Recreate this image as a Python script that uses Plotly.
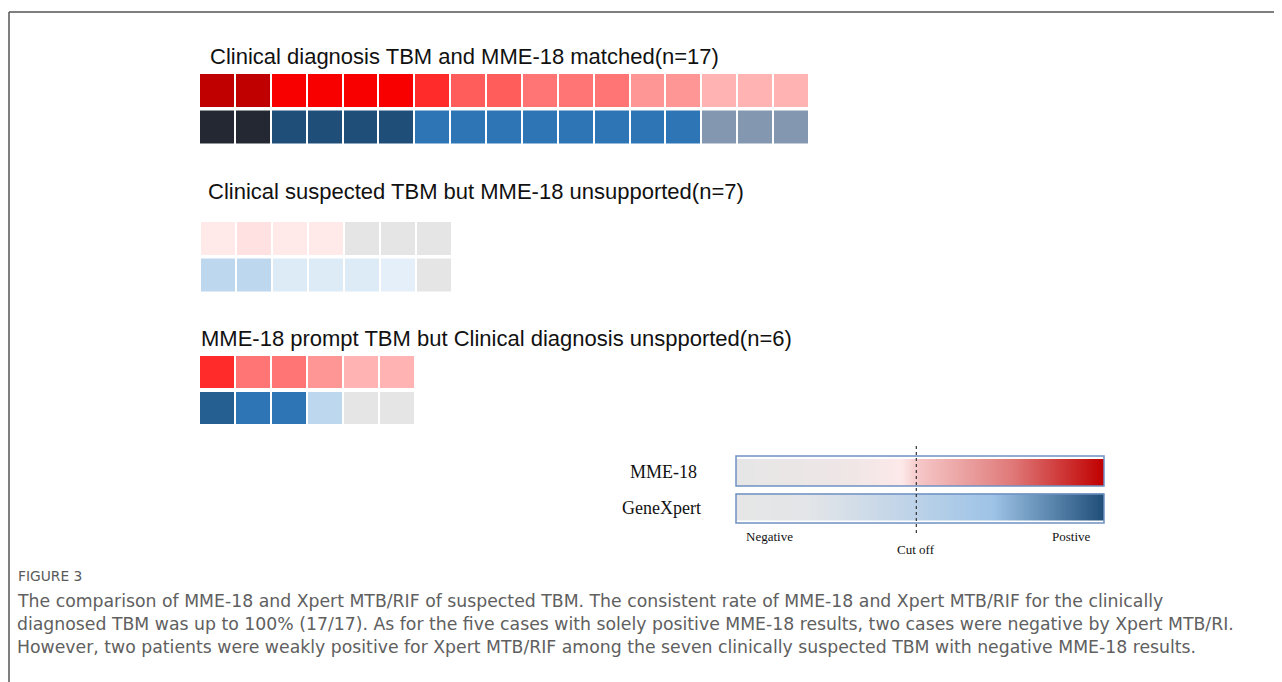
import numpy as np
import plotly.graph_objects as go

W, H = 1282, 682
OFF = 8  # page body margin offset

# ---------------- data ----------------
group_titles = [
    "Clinical diagnosis TBM and MME-18 matched(n=17)",
    "Clinical suspected TBM but MME-18 unsupported(n=7)",
    "MME-18 prompt TBM but Clinical diagnosis unspported(n=6)",
]
row_labels = ["MME-18", "GeneXpert"]

# ordinal signal levels read from the cells (0 = negative / grey)
mme_g1 = [9, 9, 8, 8, 8, 8, 7, 6, 6, 5, 5, 5, 4, 4, 3, 3, 3]
xpert_g1 = [8, 8, 7, 7, 7, 7, 5, 5, 5, 5, 5, 5, 5, 5, 4, 4, 4]
mme_g2 = [1, 2, 1, 1, 0, 0, 0]
xpert_g2 = [3, 3, 2, 2, 2, 1, 0]
mme_g3 = [7, 5, 5, 4, 3, 3]
xpert_g3 = [6, 5, 5, 3, 0, 0]

legend_labels = ["Negative", "Cut off", "Postive"]
cutoff = 0.49

caption_head = "FIGURE 3"
caption_lines = [
    "The comparison of MME-18 and Xpert MTB/RIF of suspected TBM. The consistent rate of MME-18 and Xpert MTB/RIF for the clinically",
    "diagnosed TBM was up to 100% (17/17). As for the five cases with solely positive MME-18 results, two cases were negative by Xpert MTB/RI.",
    "However, two patients were weakly positive for Xpert MTB/RIF among the seven clinically suspected TBM with negative MME-18 results.",
]

# ---------------- styles ----------------
mme_palette = ["#e5e5e5", "#ffe9e9", "#ffe1e1", "#ffb3b3", "#ff9696",
               "#ff7575", "#ff5c5c", "#ff2a2a", "#f80000", "#c00000"]
xpert_palette = ["#e5e5e5", "#e5effa", "#ddebf7", "#bdd7ee", "#8497b0",
                 "#2e75b6", "#255e91", "#1f4e79", "#232833"]


def discrete_scale(pal):
    n = len(pal)
    cs = []
    for i, c in enumerate(pal):
        lo = round(i / n, 6)
        hi = round((i + 1) / n, 6)
        if i > 0:
            lo = round(lo + 1e-6, 6)
        cs.append([lo, c])
        cs.append([min(hi, 1.0), c])
    cs[0][0] = 0.0
    cs[-1][0] = 1.0
    return cs


mme_grad = [[0.0, "#e6e6e6"], [0.3, "#efe6e6"], [0.45, "#fde9e9"], [0.5, "#f5c6c6"],
            [0.75, "#e07a7a"], [1.0, "#c00000"]]
xpert_grad = [[0.0, "#e6e6e6"], [0.2, "#e3e5e8"], [0.49, "#bcd2e8"], [0.7, "#9dc3e6"],
              [1.0, "#1f4e79"]]


def px(x):
    return (x - OFF) / W


def py(y):
    return 1 - (y - OFF) / H


fig = go.Figure()

groups = [
    (mme_g1, xpert_g1, (199, 809), (72, 145)),
    (mme_g2, xpert_g2, (200, 452), (220, 293)),
    (mme_g3, xpert_g3, (199, 415), (354, 426)),
]

layout_axes = {}
for gi, (mme, xp, (x0, x1), (y0, y1)) in enumerate(groups):
    k = gi + 1
    xa = "x" if k == 1 else f"x{k}"
    ya = "y" if k == 1 else f"y{k}"
    n = len(mme)
    for ri, (vals, pal) in enumerate(((mme, mme_palette), (xp, xpert_palette))):
        fig.add_trace(go.Heatmap(
            z=[list(vals)], x=list(range(n)), y=[ri],
            colorscale=discrete_scale(pal), zmin=-0.5, zmax=len(pal) - 0.5,
            showscale=False, xgap=2, ygap=4, hoverinfo="skip",
            name=row_labels[ri], xaxis=xa, yaxis=ya,
        ))
    layout_axes[f"xaxis{'' if k == 1 else k}"] = dict(
        domain=[px(x0), px(x1)], range=[-0.5, n - 0.5], visible=False, anchor=ya)
    layout_axes[f"yaxis{'' if k == 1 else k}"] = dict(
        domain=[py(y1), py(y0)], visible=False, anchor=xa, range=[1.5, -0.5])

# legend gradient bars
gx = [float(v) for v in np.linspace(0, 1, 300)]
for ri, cs in enumerate((mme_grad, xpert_grad)):
    fig.add_trace(go.Heatmap(
        z=[gx], x=gx, y=[ri], colorscale=cs, zmin=0, zmax=1, showscale=False,
        ygap=8, hoverinfo="skip", name=row_labels[ri], xaxis="x4", yaxis="y4"))
layout_axes["xaxis4"] = dict(domain=[px(736), px(1104)], range=[0, 1], visible=False, anchor="y4")
layout_axes["yaxis4"] = dict(domain=[py(524), py(455)], visible=False, anchor="x4", range=[1.5, -0.5])

shapes = []
lx0, lx1 = px(736), px(1104)
for (t, b) in ((456, 486), (494, 523)):
    shapes.append(dict(type="rect", xref="paper", yref="paper",
                       x0=lx0, x1=lx1, y0=py(b), y1=py(t),
                       line=dict(color="#6f91c2", width=1.5)))
shapes.append(dict(type="line", xref="x4", yref="paper", x0=cutoff, x1=cutoff,
                   y0=py(533), y1=py(446), line=dict(color="#333333", width=1.2, dash="dot")))
shapes.append(dict(type="line", xref="paper", yref="paper", x0=px(9), x1=px(9),
                   y0=0, y1=py(12), line=dict(color="#555555", width=1.5)))
shapes.append(dict(type="line", xref="paper", yref="paper", x0=px(9), x1=1,
                   y0=py(12), y1=py(12), line=dict(color="#555555", width=1.5)))

ann = []
title_pos = [(208, 56), (206, 191), (199, 338)]
for t, (x, y) in zip(group_titles, title_pos):
    ann.append(dict(text=t, x=px(x), y=py(y), xref="paper", yref="paper",
                    xanchor="left", yanchor="middle", showarrow=False,
                    font=dict(family="Liberation Sans, Arial", size=22, color="#111111")))

serif = "Liberation Serif, Times New Roman"
ann.append(dict(text=row_labels[0], x=px(699), y=py(472), xref="paper", yref="paper",
                xanchor="right", yanchor="middle", showarrow=False,
                font=dict(family=serif, size=18, color="#111111")))
ann.append(dict(text=row_labels[1], x=px(703), y=py(508), xref="paper", yref="paper",
                xanchor="right", yanchor="middle", showarrow=False,
                font=dict(family=serif, size=18, color="#111111")))
ann.append(dict(text=legend_labels[0], x=px(744), y=py(536), xref="paper", yref="paper",
                xanchor="left", yanchor="middle", showarrow=False,
                font=dict(family=serif, size=13, color="#111111")))
ann.append(dict(text=legend_labels[1], x=cutoff, y=py(549), xref="x4", yref="paper",
                xanchor="center", yanchor="middle", showarrow=False,
                font=dict(family=serif, size=13, color="#111111")))
ann.append(dict(text=legend_labels[2], x=px(1093), y=py(536), xref="paper", yref="paper",
                xanchor="right", yanchor="middle", showarrow=False,
                font=dict(family=serif, size=13, color="#111111")))

ann.append(dict(text=caption_head, x=px(16), y=py(576), xref="paper", yref="paper",
                xanchor="left", yanchor="middle", showarrow=False,
                font=dict(family="DejaVu Sans", size=13.8, color="#5a5a5a")))
for i, line in enumerate(caption_lines):
    ann.append(dict(text=line, x=px(15), y=py(601 + 23 * i), xref="paper", yref="paper",
                    xanchor="left", yanchor="middle", showarrow=False,
                    font=dict(family="DejaVu Sans", size=17.3, color="#606060")))

fig.update_layout(
    width=W, height=H, margin=dict(l=0, r=0, t=0, b=0),
    paper_bgcolor="white", plot_bgcolor="white",
    shapes=shapes, annotations=ann, showlegend=False,
    **layout_axes,
)

fig.write_html("out.html")
